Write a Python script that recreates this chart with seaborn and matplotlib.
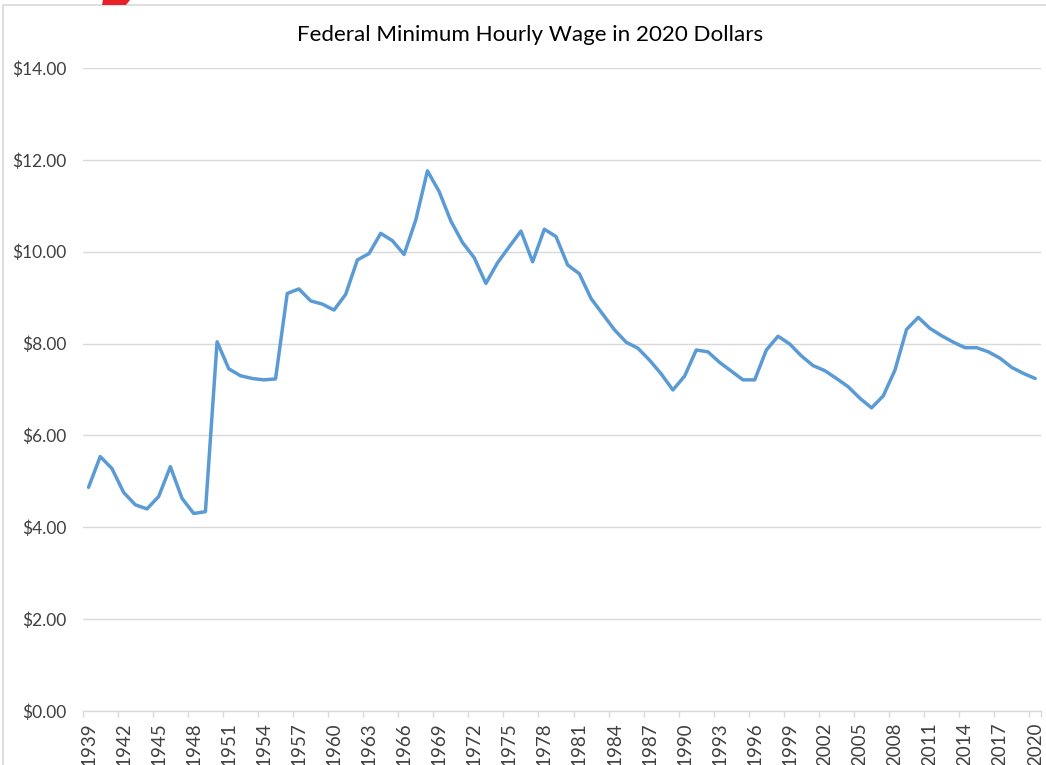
import numpy as np
import pandas as pd
import matplotlib
matplotlib.use("Agg")
import matplotlib.pyplot as plt
import seaborn as sns
from matplotlib.ticker import FuncFormatter, FixedLocator
from matplotlib.patches import Rectangle, Polygon

years = list(range(1939, 2021))
wages = [4.87, 5.54, 5.28, 4.76, 4.49, 4.40, 4.67, 5.32, 4.63, 4.30,
         4.34, 8.04, 7.45, 7.30, 7.24, 7.21, 7.23, 9.09, 9.19, 8.93,
         8.86, 8.73, 9.07, 9.82, 9.96, 10.40, 10.24, 9.94, 10.69, 11.76,
         11.31, 10.67, 10.20, 9.87, 9.31, 9.76, 10.11, 10.45, 9.78, 10.49,
         10.33, 9.71, 9.52, 8.98, 8.64, 8.30, 8.03, 7.90, 7.64, 7.34,
         6.99, 7.29, 7.86, 7.82, 7.59, 7.40, 7.21, 7.21, 7.86, 8.16,
         7.99, 7.73, 7.52, 7.41, 7.24, 7.06, 6.81, 6.60, 6.86, 7.42,
         8.31, 8.57, 8.33, 8.17, 8.03, 7.91, 7.91, 7.82, 7.68, 7.48,
         7.35, 7.24]
y_ticks = [0, 2, 4, 6, 8, 10, 12, 14]
x_tick_years = list(range(1939, 2021, 3))
title = "Federal Minimum Hourly Wage in 2020 Dollars"

df = pd.DataFrame({"year": years, "wage": wages})

sns.set_theme(style="white")
plt.rcParams['font.family'] = ['Lato', 'DejaVu Sans']

W, H = 1046, 765
fig = plt.figure(figsize=(W / 100, H / 100), dpi=100)
ax = fig.add_axes([82.7 / W, 1 - 711 / H, (1041 - 82.7) / W, (711 - 68) / H])

# chart border and red mark
fig.patches.append(Rectangle((3 / W, -0.05), 1.1, 1 - 5 / H + 0.05, transform=fig.transFigure,
                             fill=False, edgecolor="#D9D9D9", linewidth=1.2))
fig.patches.append(Polygon([(102 / W, 1 - 5 / H), (126 / W, 1 - 5 / H), (130 / W, 1.0), (103 / W, 1.0)],
                           closed=True, transform=fig.transFigure, facecolor="#E8202A", edgecolor="none"))

sns.lineplot(data=df, x="year", y="wage", ax=ax, color="#5B9BD5", linewidth=2.5)

ax.set_xlim(1938.5, 2020.5)
ax.set_ylim(0, 14)
ax.set_yticks(y_ticks)
ax.yaxis.set_major_formatter(FuncFormatter(lambda v, p: f"${v:.2f}"))
ax.grid(axis="y", color="#D9D9D9", linewidth=1)
ax.set_axisbelow(True)

ax.set_xticks(x_tick_years)
ax.set_xticklabels([str(y) for y in x_tick_years], rotation=90)
ax.xaxis.set_minor_locator(FixedLocator([y - 0.5 for y in x_tick_years] + [2020.5]))
ax.tick_params(axis="x", which="major", length=0, pad=8, labelsize=13.5, colors="#404040")
ax.tick_params(axis="x", which="minor", length=4, width=1, color="#D9D9D9", direction="out", bottom=True)
ax.tick_params(axis="y", length=0, pad=12, labelsize=12.5, colors="#404040")
for lab in ax.get_xticklabels() + ax.get_yticklabels():
    lab.set_color("#404040")

for s in ["top", "right", "left"]:
    ax.spines[s].set_visible(False)
ax.spines["bottom"].set_color("#D9D9D9")
ax.spines["bottom"].set_linewidth(1)

ax.set_xlabel("")
ax.set_ylabel("")
fig.text(530 / W, 1 - 35 / H, title, ha="center", va="center", fontsize=16.1, color="#000000")

fig.savefig("out.png", dpi=100)
